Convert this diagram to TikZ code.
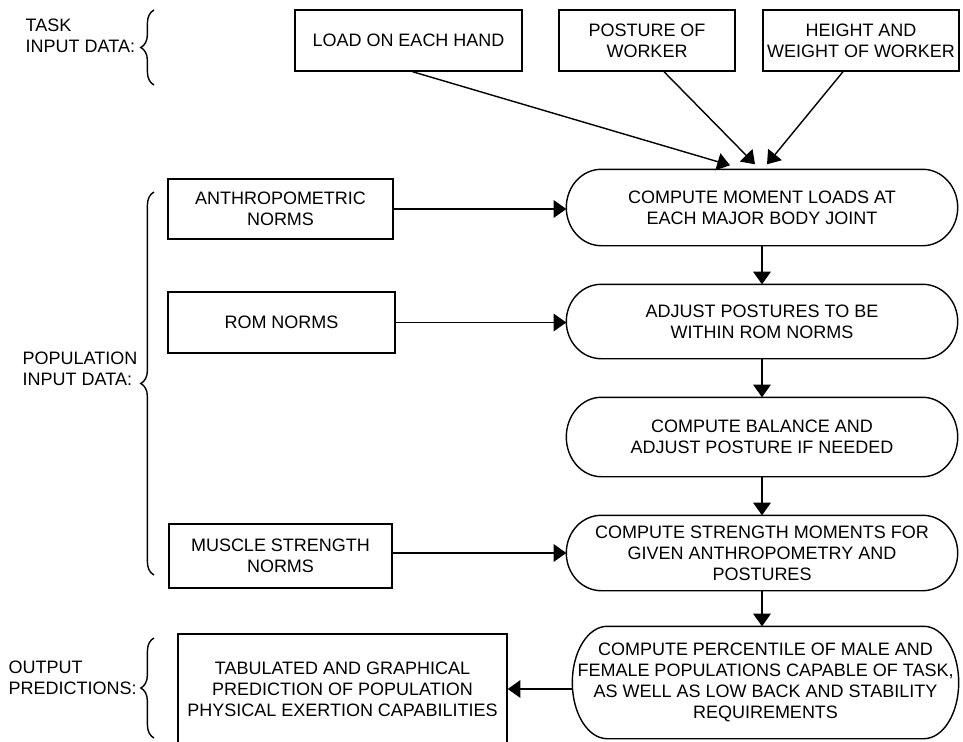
\documentclass[tikz,border=0pt]{standalone}
\usepackage{fontspec}
\setmainfont{Liberation Sans}
\usepackage{tikz}
\usetikzlibrary{calc,arrows.meta,decorations.pathreplacing}

\tikzset{
  inbox/.style={draw, align=center, minimum height=1.525cm, inner sep=2pt},
  stage/.style={align=center, minimum width=9.75cm, inner sep=0pt},
  lbl/.style={align=left, anchor=west, inner sep=0pt},
  brc/.style={decorate, decoration={brace, amplitude=0.33cm}},
}
% rounded outline round a stage node, ends bulge out like an ellipse
\newcommand{\stadium}[1]{%
  \draw let \p1=($(#1.north)-(#1.south)$) in
    ([xshift=0.875cm]#1.north west) -- ([xshift=-0.875cm]#1.north east)
    arc[start angle=90, end angle=-90, x radius=0.875cm, y radius=0.5*\y1]
    -- ([xshift=0.875cm]#1.south west)
    arc[start angle=270, end angle=90, x radius=0.875cm, y radius=0.5*\y1]
    -- cycle;}

\begin{document}
\begin{tikzpicture}[line width=1pt, >={Triangle[length=9pt,width=12.5pt]},
    font=\fontsize{12.8}{15}\selectfont]
        \useasboundingbox (0,0) rectangle (24.075,-18.525);
        % labels and braces on the left
        \node[lbl] (tasklbl) at (0.625,-0.9) {TASK\\INPUT DATA:};
        \node[lbl] (poplbl) at (0.55,-9.225) {POPULATION\\INPUT DATA:};
        \node[lbl] (outlbl) at (0.2,-16.95) {OUTPUT\\PREDICTIONS:};
        \draw[brc] (3.85,-2.125) -- (3.85,-0.25);
        \draw[brc] (3.85,-14.375) -- (3.85,-4.8);
        \draw[brc] (3.85,-18.45) -- (3.85,-15.95);
        % task inputs
        \node[inbox, minimum width=5.675cm] (load) at (10.2125,-1.0125) {LOAD ON EACH HAND};
        \node[inbox, minimum width=4.4cm] (posture) at (16.175,-1.0125) {POSTURE OF\\WORKER};
        \node[inbox, minimum width=4.9cm] (hw) at (21.525,-1.0125) {HEIGHT AND\\WEIGHT OF WORKER};
        % population inputs
        \node[inbox, minimum width=5.625cm, minimum height=1.5cm] (anthro) at (7.0125,-5.225) {ANTHROPOMETRIC\\NORMS};
        \node[inbox, minimum width=5.675cm] (rom) at (7.0375,-8.0625) {ROM NORMS};
        \node[inbox, minimum width=5.575cm, minimum height=1.6cm] (muscle) at (7.0125,-13.9) {MUSCLE STRENGTH\\NORMS};
        % output
        \node[inbox, minimum width=8.225cm, minimum height=2.75cm] (tab) at (8.5625,-17.225) {TABULATED AND GRAPHICAL\\PREDICTION OF POPULATION\\PHYSICAL EXERTION CAPABILITIES};
        % processing stages
        \node[stage, minimum height=1.875cm] (moment) at (19.05,-5.1875) {COMPUTE MOMENT LOADS AT\\EACH MAJOR BODY JOINT};
        \node[stage, minimum height=1.825cm] (adjust) at (19.05,-8.0375) {ADJUST POSTURES TO BE\\WITHIN ROM NORMS};
        \node[stage, minimum height=1.95cm] (balance) at (19.05,-10.925) {COMPUTE BALANCE AND\\ADJUST POSTURE IF NEEDED};
        \node[stage, minimum height=1.85cm] (strength) at (19.05,-13.825) {COMPUTE STRENGTH MOMENTS FOR\\GIVEN ANTHROPOMETRY AND\\POSTURES};
        \node[stage, minimum width=9.625cm, minimum height=2.775cm] (pct) at (19.1375,-17.0625) {COMPUTE PERCENTILE OF MALE AND\\FEMALE POPULATIONS CAPABLE OF TASK,\\AS WELL AS LOW BACK AND STABILITY\\REQUIREMENTS};
        \stadium{moment}
        \stadium{adjust}
        \stadium{balance}
        \stadium{strength}
        \stadium{pct}
        % arrows
        \draw[->] ([xshift=0.1cm]load.south) -- ([xshift=-0.8cm,yshift=0.1cm]moment.north);
        \draw[->] ([xshift=0.425cm]posture.south) -- ([xshift=-0.175cm,yshift=0.125cm]moment.north);
        \draw[->] ([xshift=-0.45cm]hw.south) -- ([xshift=0.125cm,yshift=0.125cm]moment.north);
        \draw[->] (anthro.east) -- (anthro.east -| moment.west);
        \draw[->] (rom.east) -- (rom.east -| adjust.west);
        \draw[->] (strength.west -| muscle.east) -- (strength.west);
        \draw[->] (moment) -- (adjust);
        \draw[->] (adjust) -- (balance);
        \draw[->] (balance) -- (strength);
        \draw[->] (strength.south) -- (strength.south |- pct.north);
        \draw[->] (tab.east -| pct.west) -- (tab.east);
\end{tikzpicture}
\end{document}
